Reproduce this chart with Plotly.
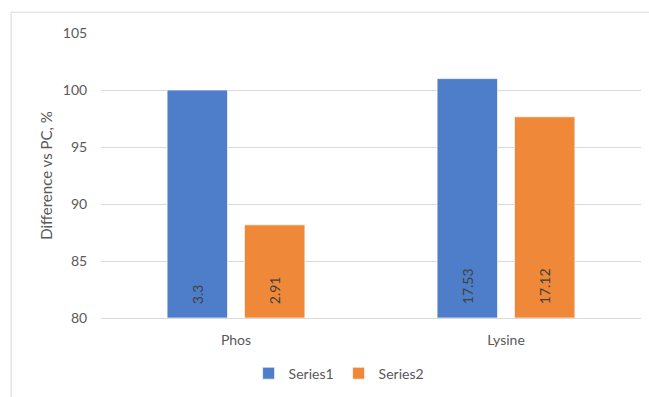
import plotly.graph_objects as go

categories = ["Phos", "Lysine"]
series1_values = [100.0, 101.0]
series2_values = [88.17, 97.65]
series1_labels = ["3.3", "17.53"]
series2_labels = ["2.91", "17.12"]
y_ticks = [80, 85, 90, 95, 100, 105]
axis_base = 80

FONT = "Lato, 'Open Sans', sans-serif"

fig = go.Figure()
for name, vals, labels, color in [
    ("Series1", series1_values, series1_labels, "#4e7ec9"),
    ("Series2", series2_values, series2_labels, "#ef8839"),
]:
    fig.add_trace(go.Bar(
        name=name,
        x=categories,
        y=[v - axis_base for v in vals],
        base=axis_base,
        text=labels,
        texttemplate="\u00a0\u00a0\u00a0%{text}",
        textposition="inside",
        insidetextanchor="start",
        textangle=-90,
        textfont=dict(family=FONT, size=14, color="#404040"),
        marker=dict(color=color, line=dict(color="rgba(255,255,255,0.7)", width=1)),
    ))

fig.update_layout(
    width=649, height=397,
    margin=dict(l=101, r=8, t=33, b=77),
    paper_bgcolor="white", plot_bgcolor="white",
    barmode="group", bargap=0.427, bargroupgap=0.218,
    font=dict(family=FONT, size=14, color="#595959"),
    showlegend=True,
    legend=dict(orientation="h", x=0.44, xanchor="center", y=-0.195, yanchor="middle",
                font=dict(size=14, color="#595959"), itemwidth=30, traceorder="normal"),
    xaxis=dict(showgrid=False, showline=True, linecolor="#d9d9d9", linewidth=1,
               ticks="outside", ticklen=9, tickcolor="rgba(0,0,0,0)",
               tickfont=dict(size=14, color="#595959")),
    yaxis=dict(range=[80, 105], tickvals=y_ticks, showgrid=True, gridcolor="#d9d9d9",
               gridwidth=1, zeroline=False, showline=False,
               ticks="outside", ticklen=10, tickcolor="rgba(0,0,0,0)",
               tickfont=dict(size=14, color="#595959"),
               title=dict(text="Difference vs PC, %", font=dict(size=15, color="#595959"), standoff=6)),
    shapes=[
        dict(type="line", xref="paper", yref="paper", x0=-0.1665, x1=1.02, y0=1.073, y1=1.073,
             line=dict(color="#d9d9d9", width=1)),
        dict(type="line", xref="paper", yref="paper", x0=-0.1665, x1=-0.1665, y0=1.073, y1=-0.3,
             line=dict(color="#d9d9d9", width=1)),
    ],
)

fig.write_html("out.html")
